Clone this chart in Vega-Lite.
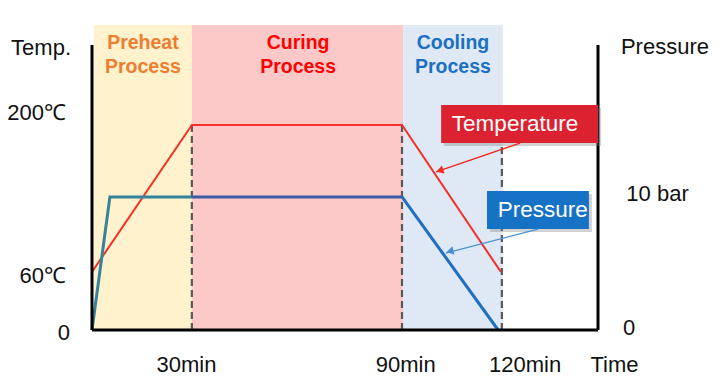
{
  "$schema": "https://vega.github.io/schema/vega-lite/v6.json",
  "width": 506,
  "height": 305,
  "autosize": {"type": "none"},
  "padding": {"left": 92, "top": 25, "right": 120, "bottom": 60},
  "background": "white",
  "config": {"view": {"stroke": null}, "text": {"font": "Liberation Sans"}},
  "datasets": {
    "phases": [
      {"phase": "Preheat", "x": 0.6, "x2": 29.6, "y": 0, "y2": 315},
      {"phase": "Curing", "x": 29.6, "x2": 92.3, "y": 0, "y2": 315},
      {"phase": "Cooling", "x": 92.3, "x2": 121.8, "y": 0, "y2": 315}
    ],
    "guides": [
      {"x": 29.6, "y": 0, "y2": 211.7},
      {"x": 91.9, "y": 0, "y2": 211.7},
      {"x": 121.5, "y": 0, "y2": 211.7}
    ],
    "temp": [
      {"i": 1, "x": 0, "y": 60},
      {"i": 2, "x": 29.6, "y": 211.7},
      {"i": 3, "x": 91.9, "y": 211.7},
      {"i": 4, "x": 121.2, "y": 60}
    ],
    "pressure": [
      {"seg": "A", "i": 1, "x": 0, "y": 0},
      {"seg": "A", "i": 2, "x": 5.3, "y": 137.4},
      {"seg": "A", "i": 3, "x": 29.6, "y": 137.4},
      {"seg": "B", "i": 1, "x": 29.6, "y": 137.4},
      {"seg": "B", "i": 2, "x": 91.9, "y": 137.4},
      {"seg": "C", "i": 1, "x": 91.9, "y": 137.4},
      {"seg": "C", "i": 2, "x": 120.4, "y": 0}
    ],
    "axes": [
      {"x": 0, "x2": 0, "y": 0, "y2": 294.3},
      {"x": 150, "x2": 150, "y": 0, "y2": 294.3},
      {"x": 0, "x2": 150, "y": 0, "y2": 0}
    ],
    "boxes": [
      {"box": "Temperature", "x": 103.5, "x2": 150, "y": 193.1, "y2": 232.4},
      {"box": "Pressure", "x": 117.1, "x2": 147.3, "y": 104.3, "y2": 143.6}
    ],
    "boxtext": [
      {"t": "Temperature", "x": 125.4, "y": 212.8},
      {"t": "Pressure", "x": 133.6, "y": 123.9}
    ],
    "arrows": [
      {"a": "T", "x": 126.9, "y": 193.1, "x2": 102.0, "y2": 163.2},
      {"a": "P", "x": 132.2, "y": 104.3, "x2": 104.9, "y2": 79.5}
    ],
    "heads": [
      {"a": "T", "x": 103.1, "y": 164.6, "ang": 251},
      {"a": "P", "x": 106.1, "y": 81.3, "ang": 256}
    ],
    "labels": [
      {"t": "Temp.", "x": -15.1, "y": 291.2, "pos": "c"},
      {"t": "200℃", "x": -7.7, "y": 224, "pos": "l"},
      {"t": "60℃", "x": -7.7, "y": 55.8, "pos": "l"},
      {"t": "0", "x": -6.5, "y": -3.1, "pos": "l"},
      {"t": "Pressure", "x": 156.8, "y": 292.3, "pos": "r"},
      {"t": "10 bar", "x": 158.4, "y": 140.5, "pos": "r"},
      {"t": "0", "x": 157.4, "y": 2.1, "pos": "r"},
      {"t": "30min", "x": 28, "y": -36.1, "pos": "c"},
      {"t": "90min", "x": 93, "y": -36.1, "pos": "c"},
      {"t": "120min", "x": 128.4, "y": -36.1, "pos": "c"},
      {"t": "Time", "x": 154.9, "y": -36.1, "pos": "c"}
    ],
    "phaselabels": [
      {"phase": "Preheat", "t": "Preheat", "x": 15.1, "y": 296.5},
      {"phase": "Preheat", "t": "Process", "x": 15.1, "y": 271.6},
      {"phase": "Curing", "t": "Curing", "x": 61.1, "y": 296.5},
      {"phase": "Curing", "t": "Process", "x": 61.1, "y": 271.6},
      {"phase": "Cooling", "t": "Cooling", "x": 107.0, "y": 296.5},
      {"phase": "Cooling", "t": "Process", "x": 107.0, "y": 271.6}
    ]
  },
  "encoding": {
    "x": {"field": "x", "type": "quantitative", "scale": {"domain": [0, 150], "nice": false, "zero": false}, "axis": null},
    "y": {"field": "y", "type": "quantitative", "scale": {"domain": [0, 315], "nice": false, "zero": false}, "axis": null}
  },
  "layer": [
    {
      "data": {"name": "phases"},
      "mark": {"type": "rect"},
      "encoding": {
        "x2": {"field": "x2"},
        "y2": {"field": "y2"},
        "color": {"field": "phase", "type": "nominal", "scale": {"domain": ["Preheat", "Curing", "Cooling"], "range": ["#fff2cc", "#fdc8c8", "#dee9f5"]}, "legend": null}
      }
    },
    {
      "data": {"name": "guides"},
      "mark": {"type": "rule", "color": "#595959", "strokeWidth": 2.2, "strokeDash": [7, 4]},
      "encoding": {"y2": {"field": "y2"}}
    },
    {
      "data": {"name": "temp"},
      "mark": {"type": "line", "color": "#f5302a", "strokeWidth": 2},
      "encoding": {"order": {"field": "i"}}
    },
    {
      "data": {"name": "pressure"},
      "mark": {"type": "line", "strokeWidth": 3},
      "encoding": {
        "detail": {"field": "seg"},
        "order": {"field": "i"},
        "color": {"field": "seg", "type": "nominal", "scale": {"domain": ["A", "B", "C"], "range": ["#31849b", "#3d5ba6", "#1f6fc0"]}, "legend": null}
      }
    },
    {
      "data": {"name": "axes"},
      "mark": {"type": "rule", "color": "#000000", "strokeWidth": 3},
      "encoding": {"x2": {"field": "x2"}, "y2": {"field": "y2"}}
    },
    {
      "data": {"name": "boxes"},
      "mark": {"type": "rect", "color": "#7f7f7f", "opacity": 0.35, "xOffset": 3, "x2Offset": 3, "yOffset": 3, "y2Offset": 3},
      "encoding": {"x2": {"field": "x2"}, "y2": {"field": "y2"}}
    },
    {
      "data": {"name": "boxes"},
      "mark": {"type": "rect"},
      "encoding": {
        "x2": {"field": "x2"},
        "y2": {"field": "y2"},
        "color": {"field": "box", "type": "nominal", "scale": {"domain": ["Temperature", "Pressure"], "range": ["#dc2231", "#1672c4"]}, "legend": null}
      }
    },
    {
      "data": {"name": "boxtext"},
      "mark": {"type": "text", "color": "white", "fontSize": 22.5, "baseline": "middle", "align": "center"},
      "encoding": {"text": {"field": "t"}}
    },
    {
      "data": {"name": "arrows"},
      "mark": {"type": "rule", "strokeWidth": 1.3},
      "encoding": {
        "x2": {"field": "x2"},
        "y2": {"field": "y2"},
        "color": {"field": "a", "type": "nominal", "scale": {"domain": ["T", "P"], "range": ["#f0281e", "#4a8fd2"]}, "legend": null}
      }
    },
    {
      "data": {"name": "heads"},
      "mark": {"type": "point", "shape": "triangle-up", "filled": true, "size": 70, "opacity": 1},
      "encoding": {
        "angle": {"field": "ang", "type": "quantitative", "scale": {"domain": [0, 360], "range": [0, 360]}},
        "color": {"field": "a", "type": "nominal", "scale": {"domain": ["T", "P"], "range": ["#f0281e", "#4a8fd2"]}, "legend": null}
      }
    },
    {
      "data": {"name": "labels"},
      "transform": [{"filter": "datum.pos == 'l'"}],
      "mark": {"type": "text", "color": "#111111", "fontSize": 22, "baseline": "middle", "align": "right"},
      "encoding": {"text": {"field": "t"}}
    },
    {
      "data": {"name": "labels"},
      "transform": [{"filter": "datum.pos == 'c'"}],
      "mark": {"type": "text", "color": "#111111", "fontSize": 22, "baseline": "middle", "align": "center"},
      "encoding": {"text": {"field": "t"}}
    },
    {
      "data": {"name": "labels"},
      "transform": [{"filter": "datum.pos == 'r'"}],
      "mark": {"type": "text", "color": "#111111", "fontSize": 22, "baseline": "middle", "align": "left"},
      "encoding": {"text": {"field": "t"}}
    },
    {
      "data": {"name": "phaselabels"},
      "mark": {"type": "text", "fontSize": 19.5, "fontWeight": "bold", "baseline": "middle", "align": "center"},
      "encoding": {
        "text": {"field": "t"},
        "color": {"field": "phase", "type": "nominal", "scale": {"domain": ["Preheat", "Curing", "Cooling"], "range": ["#ed7d31", "#ff0000", "#1b70c2"]}, "legend": null}
      }
    }
  ],
  "resolve": {"scale": {"color": "independent"}}
}
